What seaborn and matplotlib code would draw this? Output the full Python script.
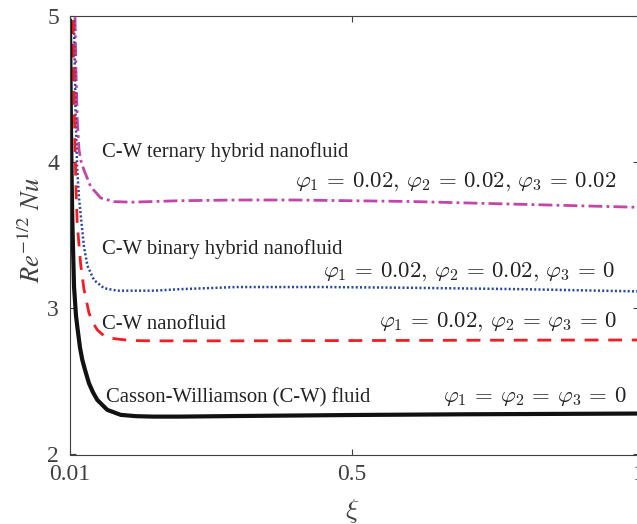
import matplotlib
matplotlib.use("Agg")
import matplotlib.pyplot as plt
import pandas as pd
import seaborn as sns

# Local Nusselt number Re^{-1/2} Nu against the stream-wise coordinate xi
xi_cw = [0.01, 0.0115, 0.0128, 0.014, 0.017, 0.0204, 0.0227, 0.0274, 0.0314,
         0.036, 0.043, 0.05, 0.0575, 0.0749, 0.0982, 0.125, 0.156, 0.2, 0.3,
         0.5, 0.7, 1.0]
nu_cw = [4.97, 4.3, 3.9, 3.603, 3.148, 2.95, 2.874, 2.73, 2.647,
         2.58, 2.487, 2.425, 2.373, 2.305, 2.271, 2.262, 2.259, 2.259, 2.263,
         2.27, 2.275, 2.28]

xi_nf = [0.0152, 0.0165, 0.0185, 0.0205, 0.0227, 0.0286, 0.0343, 0.043, 0.05,
         0.0575, 0.068, 0.0808, 0.1156, 0.156, 0.3, 0.5, 0.7, 1.0]
nu_nf = [4.97, 4.55, 4.15, 3.8, 3.57, 3.3, 3.13, 2.968, 2.9,
         2.852, 2.815, 2.795, 2.779, 2.777, 2.777, 2.779, 2.781, 2.783]

xi_bh = [0.0169, 0.0185, 0.0199, 0.0225, 0.0257, 0.0286, 0.0343, 0.0404,
         0.0517, 0.0691, 0.0923, 0.156, 0.2, 0.3, 0.45, 0.6, 0.8, 1.0]
nu_bh = [4.97, 4.6, 4.29, 3.95, 3.75, 3.64, 3.42, 3.29,
         3.193, 3.137, 3.12, 3.12, 3.13, 3.145, 3.145, 3.14, 3.13, 3.115]

xi_th = [0.0187, 0.0205, 0.0227, 0.0257, 0.0295, 0.0343, 0.046, 0.0634,
         0.0865, 0.116, 0.2, 0.3, 0.4, 0.5, 0.6, 0.7, 0.8, 0.9, 1.0]
nu_th = [4.99, 4.6, 4.287, 4.082, 4.0, 3.945, 3.831, 3.754,
         3.729, 3.725, 3.735, 3.74, 3.74, 3.735, 3.73, 3.72, 3.71, 3.70, 3.69]

x_ticks = [0.01, 0.5, 1]
x_tick_labels = ["0.01", "0.5", "1"]
y_ticks = [2, 3, 4, 5]
y_tick_labels = ["2", "3", "4", "5"]

fluid_names = ["C-W ternary hybrid nanofluid", "C-W binary hybrid nanofluid",
               "C-W nanofluid", "Casson-Williamson (C-W) fluid"]
phi_labels = [r"$\varphi_1 \,=\, 0.02,\, \varphi_2 \,=\, 0.02,\, \varphi_3 \,=\, 0.02$",
              r"$\varphi_1 \,=\, 0.02,\, \varphi_2 \,=\, 0.02,\, \varphi_3 \,=\, 0$",
              r"$\varphi_1 \,=\, 0.02,\, \varphi_2 \,=\, \varphi_3 \,=\, 0$",
              r"$\varphi_1 \,=\, \varphi_2 \,=\, \varphi_3 \,=\, 0$"]

sns.set_theme(style="ticks")
plt.rcParams["font.family"] = ["Liberation Serif", "DejaVu Serif"]
plt.rcParams["mathtext.fontset"] = "cm"

fig = plt.figure(figsize=(6.37, 5.24), dpi=100)
ax = fig.add_axes([70 / 637, 69.5 / 524, 569 / 637, 438.8 / 524])

series = [
    (xi_th, nu_th, "#c345a8", 2.0, (0, (5, 1.5, 1, 1.5))),
    (xi_bh, nu_bh, "#2744a8", 1.8, (0, (0.8, 0.9))),
    (xi_nf, nu_nf, "#f21c24", 2.0, (0, (5, 3.5))),
    (xi_cw, nu_cw, "#111111", 3.0, "-"),
]
for xs, ys, col, lw, ls in series:
    df = pd.DataFrame({"xi": xs, "Nu": ys})
    sns.lineplot(data=df, x="xi", y="Nu", ax=ax, color=col, linewidth=lw,
                 linestyle=ls, sort=True, estimator=None,
                 solid_joinstyle="round", dash_joinstyle="round")

ax.set_xlim(0.01, 1)
ax.set_ylim(2, 5)
ax.set_xticks(x_ticks, x_tick_labels)
ax.set_yticks(y_ticks, y_tick_labels)
ax.tick_params(direction="in", length=4.3, width=0.8, colors="#404040",
               labelsize=17, top=True, right=True, labelcolor="#404040")
ax.tick_params(axis="x", pad=7)
ax.tick_params(axis="y", pad=8)
for sp in ax.spines.values():
    sp.set_visible(True)
    sp.set_color("#404040")
    sp.set_linewidth(0.8)

ax.set_xlabel("")
ax.set_ylabel("")
fig.text(352 / 637, 1 - 511 / 524, r"$\xi$", ha="center", va="center",
         fontsize=20, color="#404040")
fig.text(32 / 637, 1 - 230 / 524, r"$Re^{\mathit{-1/2}}\ Nu$", rotation=90,
         ha="center", va="center", fontsize=19, color="#404040",
         math_fontfamily="stix")

name_pos = [(0.0657, 4.031), (0.0663, 3.371), (0.0663, 2.859), (0.0730, 2.353)]
phi_pos = [(0.961, 3.829), (0.9596, 3.214), (0.961, 2.873), (0.9787, 2.360)]
for name, (x, y) in zip(fluid_names, name_pos):
    ax.text(x, y, name, ha="left", va="baseline", fontsize=14.9, color="#222222")
for lab, (x, y) in zip(phi_labels, phi_pos):
    ax.text(x, y, lab, ha="right", va="baseline", fontsize=16.5, color="#222222")

fig.savefig("out.png", dpi=100)
